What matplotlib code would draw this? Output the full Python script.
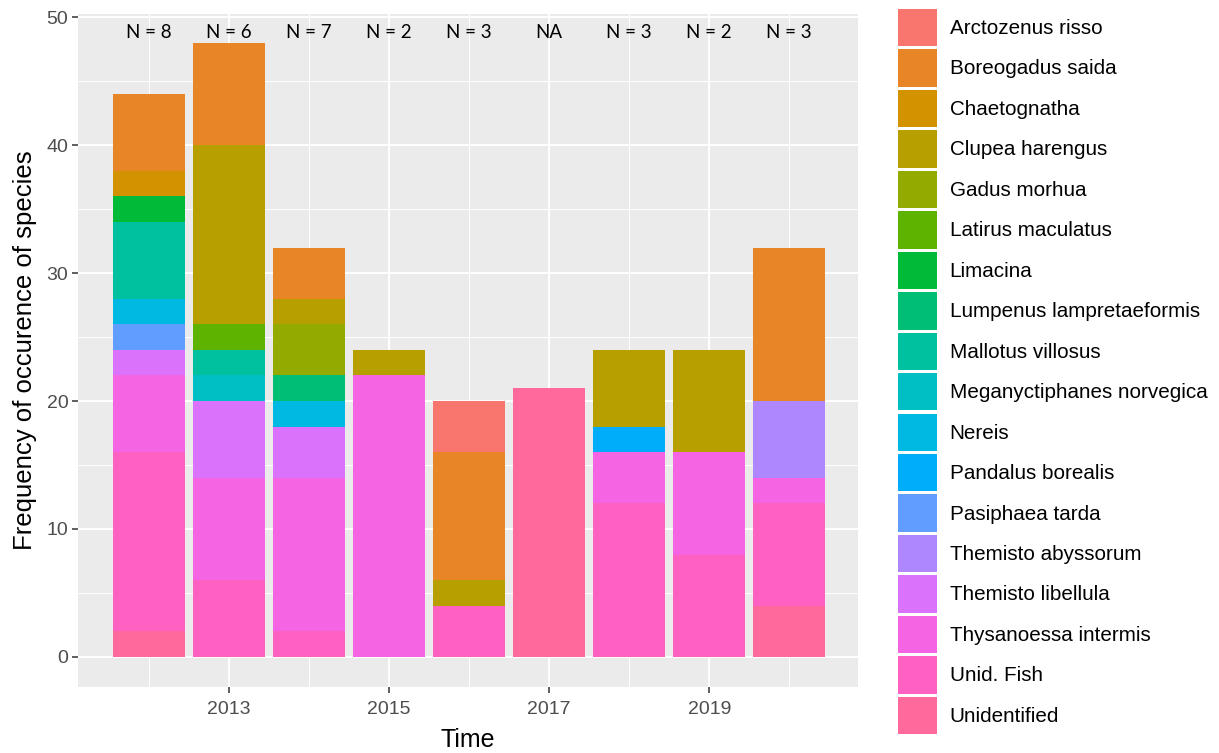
import matplotlib.pyplot as plt
import numpy as np
from matplotlib.patches import Patch
from matplotlib.ticker import MultipleLocator


def hue_pal(n, l=65, c=100, h0=15):
    # ggplot style hcl palette (polar Luv -> sRGB)
    hues = np.linspace(h0, h0 + 360, n + 1)[:n]
    xn, yn, zn = 95.047, 100.0, 108.883
    un = 4 * xn / (xn + 15 * yn + 3 * zn)
    vn = 9 * yn / (xn + 15 * yn + 3 * zn)
    out = []
    for h in hues:
        u = c * np.cos(np.radians(h))
        v = c * np.sin(np.radians(h))
        Y = ((l + 16) / 116) ** 3
        up = u / (13 * l) + un
        vp = v / (13 * l) + vn
        X = Y * 9 * up / (4 * vp)
        Z = Y * (12 - 3 * up - 20 * vp) / (4 * vp)
        r = 3.2404542 * X - 1.5371385 * Y - 0.4985314 * Z
        g = -0.9692660 * X + 1.8760108 * Y + 0.0415560 * Z
        b = 0.0556434 * X - 0.2040259 * Y + 1.0572252 * Z
        rgb = []
        for ch in (r, g, b):
            ch = max(ch, 0)
            ch = 12.92 * ch if ch <= 0.0031308 else 1.055 * ch ** (1 / 2.4) - 0.055
            rgb.append(min(max(ch, 0), 1))
        out.append(tuple(rgb))
    return out


years = [2012, 2013, 2014, 2015, 2016, 2017, 2018, 2019, 2020]
n_labels = ['N = 8', 'N = 6', 'N = 7', 'N = 2', 'N = 3', 'NA', 'N = 3', 'N = 2', 'N = 3']

species = ['Arctozenus risso', 'Boreogadus saida', 'Chaetognatha', 'Clupea harengus',
           'Gadus morhua', 'Latirus maculatus', 'Limacina', 'Lumpenus lampretaeformis',
           'Mallotus villosus', 'Meganyctiphanes norvegica', 'Nereis', 'Pandalus borealis',
           'Pasiphaea tarda', 'Themisto abyssorum', 'Themisto libellula',
           'Thysanoessa intermis', 'Unid. Fish', 'Unidentified']

# frequency per species, one value per year (2012..2020)
arctozenus      = [0, 0, 0, 0, 4, 0, 0, 0, 0]
boreogadus      = [6, 8, 4, 0, 10, 0, 0, 0, 12]
chaetognatha    = [2, 0, 0, 0, 0, 0, 0, 0, 0]
clupea          = [0, 14, 2, 2, 2, 0, 6, 8, 0]
gadus           = [0, 0, 4, 0, 0, 0, 0, 0, 0]
latirus         = [0, 2, 0, 0, 0, 0, 0, 0, 0]
limacina        = [2, 0, 0, 0, 0, 0, 0, 0, 0]
lumpenus        = [0, 0, 2, 0, 0, 0, 0, 0, 0]
mallotus        = [6, 2, 0, 0, 0, 0, 0, 0, 0]
meganyctiphanes = [0, 2, 0, 0, 0, 0, 0, 0, 0]
nereis          = [2, 0, 2, 0, 0, 0, 0, 0, 0]
pandalus        = [0, 0, 0, 0, 0, 0, 2, 0, 0]
pasiphaea       = [2, 0, 0, 0, 0, 0, 0, 0, 0]
t_abyssorum     = [0, 0, 0, 0, 0, 0, 0, 0, 6]
t_libellula     = [2, 6, 4, 0, 0, 0, 0, 0, 0]
thysanoessa     = [6, 8, 12, 22, 0, 0, 4, 8, 2]
unid_fish       = [14, 6, 2, 0, 4, 0, 12, 8, 8]
unidentified    = [2, 0, 0, 0, 0, 21, 0, 0, 4]

values = [arctozenus, boreogadus, chaetognatha, clupea, gadus, latirus, limacina,
          lumpenus, mallotus, meganyctiphanes, nereis, pandalus, pasiphaea,
          t_abyssorum, t_libellula, thysanoessa, unid_fish, unidentified]

colors = hue_pal(len(species))

plt.rcParams['font.family'] = ['Liberation Sans', 'DejaVu Sans']

fig = plt.figure(figsize=(12.19, 7.53), dpi=100)
ax = fig.add_axes([78 / 1219, 66 / 753, 780 / 1219, 673 / 753])
ax.set_facecolor('#EBEBEB')

# first level ends up on top of the stack, like ggplot
bottom = np.zeros(len(years))
for name, vals, col in reversed(list(zip(species, values, colors))):
    vals = np.array(vals, dtype=float)
    ax.bar(years, vals, width=0.9, bottom=bottom, color=col, linewidth=0, zorder=3)
    bottom += vals

for yr, lab in zip(years, n_labels):
    ax.text(yr, 48.8, lab, ha='center', va='center', fontsize=13.5,
            family=['Lato', 'DejaVu Sans'], color='black', zorder=4)

ax.set_xlim(2011.11, 2020.86)
ax.set_ylim(-2.35, 50.25)
ax.set_xticks([2013, 2015, 2017, 2019])
ax.set_xticks([2012, 2014, 2016, 2018, 2020], minor=True)
ax.yaxis.set_major_locator(MultipleLocator(10))
ax.yaxis.set_minor_locator(MultipleLocator(5))
ax.grid(which='major', color='white', linewidth=1.4, zorder=0)
ax.grid(which='minor', color='white', linewidth=0.7, zorder=0)
ax.set_axisbelow(True)
for sp in ax.spines.values():
    sp.set_visible(False)
ax.tick_params(which='major', length=4, width=1.1, color='#333333',
               labelsize=14, labelcolor='#4D4D4D', pad=3)
ax.tick_params(axis='x', which='major', pad=6)
ax.tick_params(which='minor', length=0)

ax.set_xlabel('Time', fontsize=18, color='black', labelpad=7)
ax.set_ylabel('Frequency of occurence of species', fontsize=18.5, color='black', labelpad=7)

# legend keys ~39x37 px, rows ~40 px apart
handles = [Patch(facecolor=col, edgecolor='none') for col in colors]
fig.legend(handles, species, loc='upper left', bbox_to_anchor=(898 / 1219, 1 - 9 / 753),
           frameon=False, fontsize=14.9, handlelength=1.9, handleheight=2.4,
           labelspacing=0.15, handletextpad=0.6, borderpad=0, borderaxespad=0)

fig.savefig('out.png', dpi=100)
